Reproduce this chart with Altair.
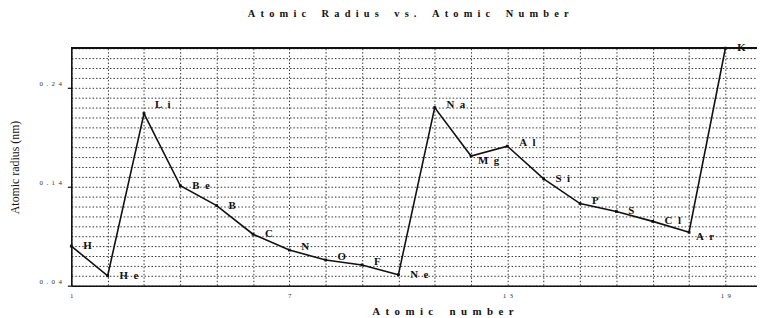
import altair as alt
import pandas as pd

# ---- data ----
atomic_number = list(range(1, 20))
symbols = ["H", "He", "Li", "Be", "B", "C", "N", "O", "F", "Ne",
           "Na", "Mg", "Al", "Si", "P", "S", "Cl", "Ar", "K"]
radius_nm = [0.080, 0.050, 0.214, 0.141, 0.121, 0.092, 0.076, 0.066, 0.061, 0.051,
             0.220, 0.171, 0.181, 0.148, 0.123, 0.115, 0.105, 0.094, 0.280]

x_tick_labels = [1, 7, 13, 19]
y_tick_labels = [0.04, 0.14, 0.24]
x_domain = [1, 19.87]
y_domain = [0.04, 0.28]

# grid lines (graph paper): every atomic number, every 0.01 nm
x_grid = list(range(1, 20))
y_grid = [round(0.04 + 0.01 * i, 2) for i in range(25)]

FONT = "Liberation Serif"


def spaced(text, letter_gap="\u2002", word_gap="\u2003\u2002"):
    return word_gap.join(letter_gap.join(w) for w in text.split(" "))


df = pd.DataFrame({
    "Z": atomic_number,
    "r": radius_nm,
    "symbol": symbols,
    "label": ["\u2002".join(s) for s in symbols],
})

y_major_expr = f"indexof({[round(v * 100) for v in y_tick_labels]}, round(datum.value*100)) >= 0"
x_major_expr = f"indexof({x_tick_labels}, datum.value) >= 0"

x_enc = alt.X(
    "Z:Q",
    scale=alt.Scale(domain=x_domain, nice=False, zero=False),
    axis=alt.Axis(
        values=x_grid, tickCount=200,
        grid=True, gridColor="#333333", gridDash=[1.5, 2], gridWidth=1,
        domainColor="#111111", domainWidth=1.6,
        ticks=False,
        labelOverlap=False,
        labelExpr=f"{x_major_expr} ? join(split(format(datum.value, 'd'), ''), '\u2002') : ''",
        labelFont=FONT, labelFontSize=7, labelColor="#333333", labelPadding=6,
        labelFlush=False,
        title=spaced("Atomic number"),
        titleFont=FONT, titleFontSize=11, titleFontWeight="bold", titleColor="#111111",
        titleX=375, titleY=29, titleAlign="center", titleBaseline="alphabetic",
    ),
)

y_enc = alt.Y(
    "r:Q",
    scale=alt.Scale(domain=y_domain, nice=False, zero=False),
    axis=alt.Axis(
        values=y_grid, tickCount=200,
        grid=True, gridColor="#333333", gridDash=[1.5, 2], gridWidth=1,
        domainColor="#111111", domainWidth=1.6,
        ticks=True, tickSize=4, tickColor="#111111", tickWidth=1.2,
        tickOpacity={"condition": {"test": y_major_expr, "value": 1}, "value": 0},
        labelOverlap=False,
        labelExpr=f"{y_major_expr} ? join(split(format(datum.value, '.2f'), ''), '\u2002') : ''",
        labelFont=FONT, labelFontSize=7, labelColor="#333333", labelPadding=6,
        labelOffset=-4, labelFlush=False,
        title="Atomic radius (nm)",
        titleFont=FONT, titleFontSize=12, titleFontWeight="normal", titleColor="#111111",
        titleAngle=270, titleX=-57, titleY=120, titleAlign="center", titleBaseline="middle",
    ),
)

base = alt.Chart(df)

line = base.mark_line(color="#111111", strokeWidth=1.6).encode(x=x_enc, y=y_enc)
points = base.mark_point(shape="square", filled=True, size=8, color="#111111", opacity=1).encode(
    x="Z:Q", y="r:Q")

top_border = alt.Chart(df).mark_rule(color="#111111", strokeWidth=1.5).encode(
    y=alt.datum(y_domain[1]))

placements = [
    (["H", "He", "Be", "B", "C", "Ne", "S", "Cl", "K", "Si"], 12, 0),
    (["N", "O", "F", "P", "Na", "Al"], 12, -3),
    (["Li"], 11, -9),
    (["Mg", "Ar"], 7, 5),
]

text_layers = []
for group, dx, dy in placements:
    text_layers.append(
        base.transform_filter(alt.FieldOneOfPredicate(field="symbol", oneOf=group))
        .mark_text(align="left", baseline="middle", dx=dx, dy=dy, font=FONT,
                   fontSize=11, fontWeight="bold", color="#111111")
        .encode(x="Z:Q", y="r:Q", text="label:N")
    )

chart = (
    alt.layer(line, top_border, points, *text_layers)
    .properties(
        width=693,
        height=240,
        autosize=alt.AutoSizeParams(type="none"),
        padding={"left": 64, "top": 39, "right": 0, "bottom": 31},
        title=alt.TitleParams(
            text=spaced("Atomic Radius vs. Atomic Number"),
            font=FONT, fontSize=10.5, fontWeight="bold", color="#111111",
            anchor="middle", offset=21, dx=-6,
        ),
        background="white",
    )
    .configure_view(stroke=None)
)

chart.save("out.html", embed_options={"renderer": "svg", "actions": False})
